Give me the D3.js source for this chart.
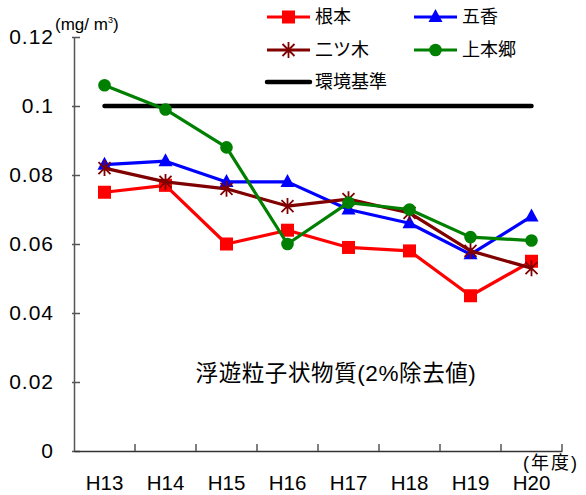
<!DOCTYPE html>
<html><head><meta charset="utf-8">
<script src="https://cdn.jsdelivr.net/npm/d3@7"></script>
<style>
body{margin:0;background:#fff;}
text{font-family:"Liberation Sans",Arial,"Noto Sans CJK JP",sans-serif;fill:#000;}
.cjk{font-family:"Liberation Sans","Noto Sans CJK JP",sans-serif;}
</style></head>
<body>
<svg id="chart" width="586" height="495"></svg>
<script>
const categories = ["H13","H14","H15","H16","H17","H18","H19","H20"];
const nemoto    = [0.075,0.077,0.060,0.064,0.059,0.058,0.045,0.055];
const gokou     = [0.083,0.084,0.078,0.078,0.070,0.066,0.057,0.068];
const futatsugi = [0.082,0.078,0.076,0.071,0.073,0.069,0.058,0.053];
const kamihongo = [0.106,0.099,0.088,0.060,0.072,0.070,0.062,0.061];
const standard  = [0.1,0.1,0.1,0.1,0.1,0.1,0.1,0.1];
const yTicks = [0,0.02,0.04,0.06,0.08,0.1,0.12];
const yTickLabels = ["0","0.02","0.04","0.06","0.08","0.1","0.12"];
const seriesNames = ["根本","五香","二ツ木","上本郷","環境基準"];

const svg = d3.select("#chart");
const x = d3.scaleBand().domain(categories).range([74,562]);
const y = d3.scaleLinear().domain([0,0.12]).range([451,37]);
const cx = c => x(c) + x.bandwidth()/2;

// Y axis
const yAxis = d3.axisLeft(y).tickValues(yTicks)
  .tickFormat((d,i)=>yTickLabels[i]).tickSizeInner(-6).tickSizeOuter(0).tickPadding(20);
const gy = svg.append("g").attr("transform","translate(74,0)").call(yAxis);
gy.select(".domain").attr("stroke","#555").attr("stroke-width",1.5);
gy.selectAll(".tick line").attr("stroke","#555").attr("stroke-width",1.5).attr("x1",-2);
gy.selectAll(".tick text").attr("font-size",21).attr("font-family","'Liberation Sans',Arial").attr("letter-spacing",1);

// X axis
const xAxis = d3.axisBottom(x).tickSize(0).tickPadding(24);
const gx = svg.append("g").attr("transform","translate(0,451)").call(xAxis);
gx.select(".domain").attr("stroke","#333").attr("stroke-width",1.5);
gx.selectAll(".tick text").attr("font-size",20.5).attr("font-family","'Liberation Sans',Arial");
// boundary ticks
gx.selectAll(".btick").data(categories).enter().append("line")
  .attr("x1",d=>x(d)+x.bandwidth()).attr("x2",d=>x(d)+x.bandwidth())
  .attr("y1",0).attr("y2",-7).attr("stroke","#555").attr("stroke-width",1.5);

// unit labels
const unit = svg.append("text").attr("x",55).attr("y",30).attr("font-size",17);
unit.append("tspan").text("(mg/ m");
unit.append("tspan").attr("font-size",9).attr("dy",-7).text("3");
unit.append("tspan").attr("dy",7).text(")");
svg.append("text").attr("class","cjk").attr("x",579).attr("y",469).attr("text-anchor","end")
  .attr("font-size",18).attr("letter-spacing",2).text("(年度)");

// title
svg.append("text").attr("class","cjk").attr("x",336).attr("y",381).attr("text-anchor","middle")
  .attr("font-size",22.5).attr("letter-spacing",0.6).text("浮遊粒子状物質(2%除去値)");

// standard line
const line = d3.line().x((d,i)=>cx(categories[i])).y(d=>y(d));
svg.append("path").datum(standard).attr("d",line).attr("fill","none")
  .attr("stroke","#000").attr("stroke-width",4.5).attr("stroke-linecap","round");

const series = [
  {name:seriesNames[0], values:nemoto, color:"#ff0000", marker:"square"},
  {name:seriesNames[1], values:gokou, color:"#0000ff", marker:"triangle"},
  {name:seriesNames[2], values:futatsugi, color:"#800000", marker:"star"},
  {name:seriesNames[3], values:kamihongo, color:"#008000", marker:"circle"}
];

function drawMarker(g, type, color){
  if(type==="square"){
    g.append("rect").attr("x",-6.5).attr("y",-6.5).attr("width",13).attr("height",13).attr("fill",color);
  } else if(type==="triangle"){
    g.append("path").attr("d","M0,-8L7,5L-7,5Z").attr("fill",color);
  } else if(type==="circle"){
    g.append("circle").attr("r",6.3).attr("fill",color);
  } else if(type==="star"){
    g.append("path").attr("d","M-6,-6L6,6M-6,6L6,-6M0,-8L0,8")
      .attr("stroke",color).attr("stroke-width",1.8).attr("fill","none");
  }
}

series.forEach(s=>{
  svg.append("path").datum(s.values).attr("d",line).attr("fill","none")
    .attr("stroke",s.color).attr("stroke-width",3.2).attr("stroke-linejoin","round");
  s.values.forEach((v,i)=>{
    const g = svg.append("g").attr("transform",`translate(${cx(categories[i])},${y(v)})`);
    drawMarker(g, s.marker, s.color);
  });
});

// legend
const legendItems = [
  {name:seriesNames[0], color:"#ff0000", marker:"square", lx:267, ly:17},
  {name:seriesNames[1], color:"#0000ff", marker:"triangle", lx:414, ly:17},
  {name:seriesNames[2], color:"#800000", marker:"star", lx:267, ly:50},
  {name:seriesNames[3], color:"#008000", marker:"circle", lx:414, ly:50},
  {name:seriesNames[4], color:"#000000", marker:null, lx:267, ly:82}
];
legendItems.forEach(it=>{
  const g = svg.append("g").attr("transform",`translate(${it.lx},${it.ly})`);
  g.append("line").attr("x1",0).attr("x2",43).attr("y1",0).attr("y2",0)
    .attr("stroke",it.color).attr("stroke-width",it.marker?3.2:4.5).attr("stroke-linecap",it.marker?"butt":"round");
  if(it.marker){
    const m = g.append("g").attr("transform","translate(21.5,0)");
    drawMarker(m, it.marker, it.color);
  }
  g.append("text").attr("class","cjk").attr("x",48).attr("y",0).attr("dy","0.36em")
    .attr("font-size",18).text(it.name);
});
</script>
</body></html>
